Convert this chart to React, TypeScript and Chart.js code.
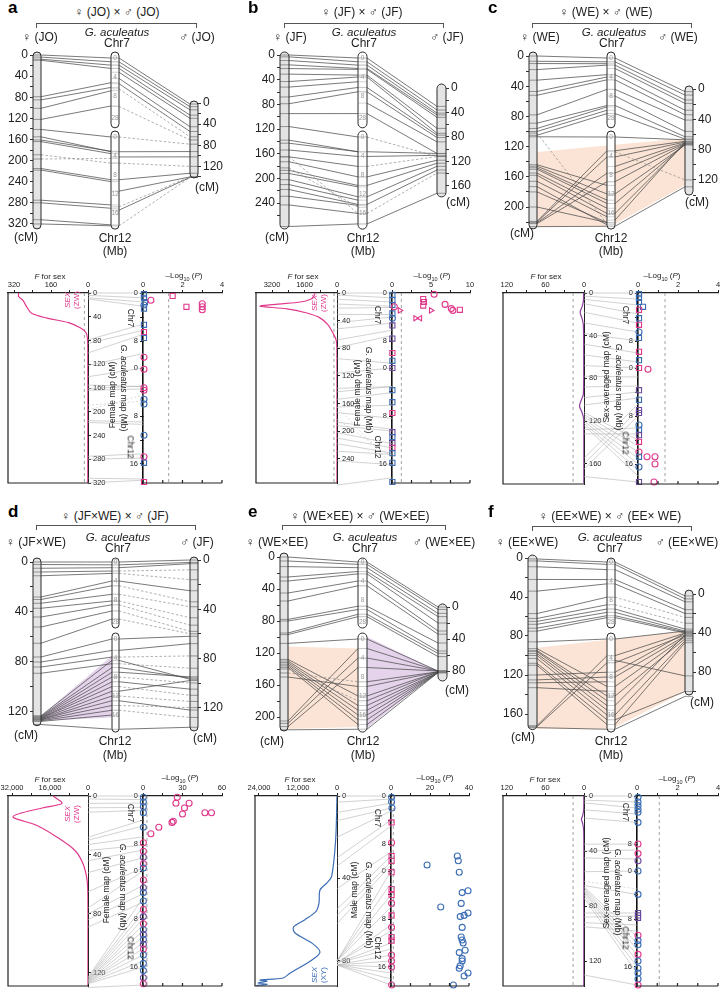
import React, { useEffect, useRef } from 'react';
import { Chart, registerables } from 'chart.js';
Chart.register(...registerables);

const FONT = '"Liberation Sans", Arial, Helvetica, sans-serif';
const MAGENTA = '#e0398c';
const BLUE = '#3b6db5';
const PURPLE = '#6b4b9e';
const VIOLET = '#8c3d9c';
const ORANGE_SHADE = 'rgba(247, 205, 178, 0.55)';
const PURPLE_SHADE = 'rgba(205, 175, 218, 0.55)';

// chromosome bar labels (display units)
const CHR7_LABEL_POS = [0, 4, 8, 12.6];
const CHR7_LABELS = ['0', '4', '8', '28'];
const CHR12_LABEL_POS = [0, 4, 8, 12, 16];
const CHR12_LABELS = ['0', '4', '8', '12', '16'];

// QTL G. aculeatus axis
const QTL_C12_OFFSET = 12.5;
const MB_TICKS = [0, 4, 8, 12.5, 16.5, 20.5, 24.5, 28.5];
const MB_LABELS = ['0', '', '8', '0', '', '8', '', '16'];

// ---------- comparative map links: [cM, chr, Mb, dashed] ----------
const aFemaleLinks = [[0,7,0,0],[4,7,0.8,0],[8,7,1.5,0],[10,7,2.2,0],[79,7,5.2,0],[85,7,6.2,0],[101,7,6.9,0],[122,7,10.1,0],[141,12,0,0],[155,12,3.1,0],[161,12,3.0,0],[164,12,3.5,0],[189,12,5.5,1],[197,12,4.5,1],[215,12,9.0,0],[218,12,9.4,0],[275,12,14.3,0],[280,12,15.0,0],[312,12,18.5,0],[320,12,18.7,0]];
const aMaleLinks = [[2,7,0,0],[7,7,0.8,0],[13,7,1.5,0],[23,7,2.2,0],[29,7,3.0,0],[45,7,4.3,0],[54,7,5.4,0],[64,7,6.5,1],[70,7,10.2,1],[78,12,0,1],[92,12,3.1,0],[102,12,4.2,0],[120,12,5.5,1],[133,12,9.0,0],[140,12,11.4,0],[140,12,14.7,1],[141,12,15.4,0],[141,12,18.7,1]];
const bFemaleLinks = [[0,7,0,0],[3,7,0.8,0],[9,7,1.5,0],[16,7,2.2,0],[22,7,2.4,0],[31,7,3.6,0],[43,7,4,0],[52,7,5,0],[68,7,6.2,0],[79,7,7.1,0],[95,7,11.7,0],[116,12,0,0],[138,12,3.1,0],[143,12,3.1,0],[154,12,4.1,0],[165,12,6.2,0],[173,12,8.4,0],[187,12,10.2,0],[192,12,10.5,0],[202,12,12.6,0],[210,12,13.3,0],[218,12,14.2,0],[229,12,14.4,0],[243,12,16.1,0],[278,12,18.3,0],[165,12,16.1,1],[183,12,14.8,1]];
const bMaleLinks = [[30,7,0,0],[36,7,0.8,0],[41,7,1.5,0],[44,7,2.2,0],[48,7,2.4,0],[66,7,3.6,0],[74,7,4,0],[77,7,6.2,0],[81,7,7.1,0],[88,7,9.5,0],[107,7,11.7,0],[112,12,0,1],[107,12,3.1,0],[110,12,4.1,0],[112,12,6.2,1],[118,12,8.4,0],[123,12,10.2,0],[128,12,12.6,0],[134,12,14.2,0],[139,12,16.1,1],[172,12,18.3,0]];
const cFemaleLinks = [[0,7,0,0],[7,7,0.8,0],[10,7,1.2,0],[18,7,1.5,0],[32,7,3.5,0],[47,7,4,0],[52,7,4.6,0],[78,7,6.6,0],[89,7,10,0],[96,7,10.3,0],[100,7,11,0],[105,7,11.7,0],[107,12,0,0],[102,12,18.3,1],[144,12,10.2,0],[146,12,12,0],[148,12,13.3,0],[150,12,14,0],[155,12,15,0],[158,12,16.1,0],[166,12,16.8,0],[173,12,18.5,0],[180,12,18,0],[200,12,18,0],[219,12,2.9,0],[220,12,4.2,0],[221,12,7.6,0],[222,12,9.4,0],[226,12,18.8,0]];
const cMaleLinks = [[3.5,7,0,0],[8,7,0.8,0],[14.5,7,1.5,0],[19,7,2.2,0],[28,7,3.5,0],[34,7,4.6,0],[41,7,6.6,0],[56,7,8,0],[63,7,10,0],[66,7,11.7,0],[67,12,0,0],[69,12,2.9,0],[70,12,4.2,0],[71,12,6.2,0],[72,12,7.6,0],[73,12,9.4,0],[74,12,12,0],[73,12,14,0],[72,12,16.1,0],[70,12,17.5,0],[120,12,3.1,1],[129,12,18.8,0]];
const dFemaleLinks = [[0,7,0,0],[2,7,0.6,0],[5,7,1.2,0],[8,7,1.9,0],[11,7,2.4,0],[28,7,4,0],[30,7,5,0],[33,7,6.8,0],[37,7,8.2,0],[44,7,9,0],[52,7,10.3,0],[65,7,12,0],[76,12,0,0],[80,12,2.4,0],[84,12,3.8,0],[89,12,5.2,0],[123,12,4.5,0],[123.5,12,6,0],[124,12,7,0],[124.5,12,8,0],[125,12,9,0],[125,12,10,0],[125.5,12,11,0],[126,12,12,0],[126,12,13,0],[126.5,12,14,0],[127,12,15,0],[127.5,12,16,0],[130,12,19,0]];
const dMaleLinks = [[0,7,0,0],[2,7,0.6,0],[3,7,1.2,0],[8,7,1.9,1],[16,7,2.4,1],[25,7,4,0],[34,7,5,1],[38,7,6.8,1],[47,7,8.2,1],[53,7,9,1],[58,7,10.3,1],[60,7,12,1],[62,12,0,0],[68,12,2.4,0],[78,12,3.8,1],[88,12,5.2,1],[97,12,4.5,0],[96,12,6,0],[95,12,7,0],[100,12,8,1],[105,12,9,0],[110,12,10,1],[98,12,11,0],[115,12,12,1],[122,12,13,0],[120,12,14,1],[128,12,15,1],[136,12,19,0]];
const eFemaleLinks = [[0,7,0,0],[5,7,0.5,0],[12,7,1.2,0],[25,7,2,0],[30,7,2.5,0],[45,7,4,0],[55,7,5,0],[78,7,9.3,0],[80,7,10,0],[95,7,11,0],[97,7,11.5,0],[108,12,0,0],[128,12,12,0],[130,12,14,0],[132,12,15,0],[134,12,16,0],[136,12,17,0],[138,12,18,0],[140,12,13,1],[145,12,9,1],[150,12,10,0],[205,12,2,0],[208,12,4,0],[212,12,6,0],[216,12,19,0]];
const eMaleLinks = [[0,7,0,0],[3,7,0.5,0],[8,7,1.2,0],[12,7,2,0],[20,7,2.5,0],[30,7,4,0],[34,7,5,0],[45,7,9.3,0],[55,7,10,0],[58,7,11,0],[62,7,11.5,0],[80,12,0,0],[80,12,2,0],[80,12,4,0],[80,12,6,0],[81,12,9,0],[81,12,10,0],[81,12,12,0],[81,12,13,0],[82,12,14,0],[82,12,15,0],[82,12,16,0],[82,12,17,0],[82,12,18,0],[82,12,19,0]];
const fFemaleLinks = [[1,7,0,0],[3,7,0.5,0],[9,7,1.6,0],[22,7,3.7,0],[34,7,4.6,0],[57,7,7.4,0],[62,7,9,0],[65,7,9.9,0],[68,7,10.6,0],[72,7,11.3,0],[75,7,11.7,0],[86,12,0,0],[93,12,10,0],[95,12,12,0],[96,12,13,0],[98,12,14,0],[100,12,15,0],[103,12,16,0],[108,12,17,0],[110,12,18,0],[120,12,7,0],[125,12,8,0],[128,12,9,0],[133,12,11,0],[172,12,3.5,0],[173,12,5,0],[174,12,19,0]];
const fMaleLinks = [[2,7,0,0],[5,7,0.5,0],[8,7,1.6,0],[16,7,3.7,0],[20,7,4.6,0],[24,7,7.4,1],[30,7,9,1],[36,7,9.9,0],[38,7,10.6,0],[39,7,11.3,0],[40,7,11.7,0],[38,12,0,0],[40,12,3.5,0],[42,12,5,0],[40,12,7,0],[43,12,8,0],[44,12,10,0],[46,12,12,0],[42,12,14,0],[48,12,16,0],[50,12,18,0],[84,12,4.5,0],[105,12,19,0],[100,12,17,0]];
const cAvgLinks = [[0,7,0,0],[3,7,1,0],[6,7,2,0],[10,7,3.5,0],[18,7,5,0],[28,7,6.5,0],[38,7,8,0],[48,7,10,0],[58,7,11.5,0],[68,12,0,0],[78,12,1.5,0],[88,12,3,0],[98,12,4,0],[105,12,5,0],[112,12,12,0],[114,12,13,0],[116,12,14,0],[118,12,15,0],[120,12,16,0],[122,12,17,0],[124,12,18,0],[128,12,10,0],[132,12,11,0],[155,12,6,0],[160,12,7,0],[165,12,8,0],[172,12,19,0]];
const fAvgLinks = [[0,7,0,0],[3,7,1,0],[5,7,2,0],[10,7,3,0],[16,7,4.4,0],[35,7,8,0],[40,7,9,0],[45,7,10.5,0],[55,12,0,0],[62,12,3,1],[65,12,3.9,0],[66,12,11,0],[67,12,12,0],[68,12,13,0],[69,12,14,0],[70,12,15,0],[72,12,16,0],[74,12,17,0],[85,12,7,0],[88,12,7.5,0],[92,12,9,0],[95,12,10,0],[130,12,19,0]];

// shaded blocks: [column, chr(0 = linkage map), value]
const cShade = [['f',0,127],['m',0,65],['m',0,127],['cc',12,18.8],['f',0,226]];
const dShade = [['f',0,123],['cl',12,3.5],['cl',12,16.5],['f',0,127]];
const eShadeA = [['f',0,112],['cl',12,2],['cl',12,18.5],['f',0,215]];
const eShadeB = [['cr',12,-0.5],['m',0,80],['cr',12,18.8]];
const fShade = [['f',0,92],['m',0,38],['m',0,100],['cc',12,19],['f',0,175]];

// map axis ticks
const aFemaleTicks = [0,20,40,60,80,100,120,140,160,180,200,220,240,260,280,300,320];
const aMaleTicks = [0,20,40,60,80,100,120,140];
const bFemaleTicks = [0,20,40,60,80,100,120,140,160,180,200,220,240,260];
const bMaleTicks = [0,20,40,60,80,100,120,140,160];
const cFemaleTicks = [0,20,40,60,80,100,120,140,160,180,200,220];
const cMaleTicks = [0,20,40,60,80,100,120,140];
const dFemaleTicks = [0,20,40,60,80,100,120];
const dMaleTicks = [0,20,40,60,80,100,120];
const eFemaleTicks = [0,20,40,60,80,100,120,140,160,180,200];
const eMaleTicks = [0,20,40,60,80];
const fFemaleTicks = [0,20,40,60,80,100,120,140,160];
const fMaleTicks = [0,20,40,60,80,100];

// ---------- QTL: F-for-sex curves [cM, F] ----------
const aFCurve = [[0,300],[6,300],[12,282],[24,264],[34,244],[42,180],[50,84],[59,32],[67,8],[80,2],[120,1],[200,1],[320,1]];
const bFCurve = [[0,1080],[5,1150],[9,1300],[13,1800],[16,2900],[19,3790],[23,2460],[29,1480],[36,840],[46,440],[58,200],[68,40],[80,5],[150,2],[275,2]];
const cFCurve = [[0,0.5],[8,1],[13,3],[18,6],[24,3],[30,1],[60,0.5],[95,1],[100,4],[106,7],[112,3],[118,0.5],[178,0.3]];
const dFCurve = [[0,14700],[5,11000],[8,19000],[14,31600],[20,21500],[28,13000],[37,5500],[46,2100],[57,400],[69,50],[100,20],[129,20]];
const eFCurve = [[0,0],[21,400],[39,1640],[42,3000],[45.6,5230],[52,5540],[56,6460],[60,9850],[63.6,13400],[66.5,12900],[71.4,7700],[75.7,5230],[79.6,7700],[86,14500],[88.3,16600],[89.3,23700],[89.9,21500],[90.8,24300],[91.4,21500],[92,24800]];
const fFCurve = [[0,0.3],[10,0.5],[14,2],[17,4],[20,2],[25,0.5],[60,0.3],[100,0.3],[138,0.3]];

// ---------- QTL: association points [chr, Mb, -log10P, shape, colour] ----------
const aPoints = [[7,0.2,0.05,'s','b'],[7,0.8,0.05,'s','b'],[7,1.5,0.1,'s','b'],[7,2.0,0.05,'o','b'],[7,2.6,0.05,'s','b'],[7,5.3,0.05,'s','b'],[7,6.5,0.05,'s','m'],[7,7.5,0.05,'s','b'],[7,10.7,0.05,'o','m'],[12,0.2,0.05,'o','m'],[12,3.3,0.05,'o','m'],[12,3.7,0.05,'o','m'],[12,5.2,0.05,'o','b'],[12,6.0,0.05,'o','b'],[12,11.2,0.05,'o','b'],[12,14.8,0.05,'o','m'],[12,15.8,0.05,'s','b'],[12,19.0,0.05,'s','m'],[7,0.5,1.5,'s','m'],[7,2.3,2.2,'s','m'],[7,1.8,3.0,'o','m'],[7,2.3,3.0,'o','m'],[7,2.8,3.0,'o','m'],[7,1.2,0.4,'o','m']];
const bPoints = [[7,0.3,0.05,'s','b'],[7,1.2,0.05,'s','b'],[7,2.0,0.05,'s','b'],[7,3.4,0.05,'s','b'],[7,4.2,0.05,'o','b'],[7,5.4,0.05,'s','p'],[7,7.6,0.05,'s','p'],[7,10.0,0.05,'s','m'],[7,11.3,0.05,'s','b'],[12,0,0.05,'s','p'],[12,3.7,0.05,'s','b'],[12,5.7,0.05,'s','b'],[12,7.5,0.05,'s','m'],[12,10.7,0.05,'s','p'],[12,11.5,0.05,'s','b'],[12,12.5,0.05,'s','p'],[12,13.3,0.05,'s','m'],[12,14.2,0.05,'s','b'],[12,15.8,0.05,'s','b'],[12,19.0,0.05,'s','b'],[7,0.2,5.4,'o','m'],[7,1.0,4.0,'s','m'],[7,1.5,4.1,'s','m'],[7,2.1,4.0,'s','m'],[7,1.9,6.8,'o','m'],[7,2.6,7.6,'o','m'],[7,2.9,7.8,'o','m'],[7,2.8,8.7,'s','m'],[7,2.9,5.0,'tr','m'],[7,2.9,1.0,'tr','m'],[7,4.2,3.0,'tr','m'],[7,4.2,3.6,'tl','m'],[7,2.3,0.3,'o','m']];
const cPoints = [[7,0.2,0.05,'s','b'],[7,0.8,0.05,'s','b'],[7,1.5,0.05,'s','b'],[7,2.3,0.25,'s','b'],[7,2.8,0.05,'s','m'],[7,4.2,0.05,'s','b'],[7,5.3,0.05,'s','m'],[7,6.5,0.05,'o','b'],[7,7.5,0.05,'s','b'],[7,9.8,0.05,'s','m'],[7,11.2,0.05,'s','b'],[12,0,0.05,'s','m'],[12,0.2,0.5,'o','m'],[12,3.7,0.05,'s','p'],[12,5.3,0.05,'s','b'],[12,7.0,0.05,'s','p'],[12,7.5,0.05,'s','p'],[12,9.5,0.05,'o','b'],[12,10.3,0.05,'s','b'],[12,11.2,0.05,'s','p'],[12,12.3,0.05,'s','m'],[12,14.0,0.05,'o','m'],[12,14.8,0.05,'s','b'],[12,16.5,0.05,'o','b'],[12,19.0,0.05,'s','p'],[12,14.8,0.45,'o','m'],[12,14.8,0.85,'o','m'],[12,16.0,0.85,'o','m'],[12,19.0,0.8,'o','m']];
const dPoints = [[7,0.2,0.3,'o','b'],[7,1.0,0.3,'o','b'],[7,1.8,0.3,'o','b'],[7,2.8,0.3,'o','b'],[7,5.2,0.3,'o','b'],[7,7.8,0.3,'o','m'],[7,9.2,0.3,'o','m'],[7,10.2,0.3,'o','p'],[7,11.3,0.3,'o','m'],[7,12.0,0.3,'o','b'],[12,1.5,0.3,'o','m'],[12,2.8,0.3,'o','p'],[12,3.6,0.3,'o','b'],[12,5.0,0.3,'o','b'],[12,6.4,0.3,'o','m'],[12,7.6,0.3,'o','p'],[12,8.8,0.3,'o','m'],[12,9.8,0.3,'o','b'],[12,10.6,0.3,'o','p'],[12,11.4,0.3,'o','b'],[12,12.2,0.3,'o','p'],[12,13.0,0.3,'o','m'],[12,14.0,0.3,'o','b'],[12,15.4,0.3,'o','b'],[12,16.6,0.3,'o','b'],[12,17.8,0.3,'o','p'],[12,18.8,0.3,'o','m'],[7,0.2,26,'o','m'],[7,1.2,25,'o','m'],[7,1.2,35,'o','m'],[7,2.0,31.5,'o','m'],[7,3.0,30,'o','m'],[7,2.8,47,'o','m'],[7,2.8,52,'o','m'],[7,4.2,23,'o','m'],[7,4.4,22,'o','m'],[7,5.2,12,'o','m'],[7,6.3,6,'o','m']];
const ePoints = [[7,0.2,0.3,'o','b'],[7,1.0,0.3,'o','b'],[7,2.0,0.5,'o','b'],[7,4.4,0.3,'s','m'],[7,7.8,0.3,'o','m'],[7,10.0,0.3,'s','m'],[7,10.8,0.3,'s','m'],[12,0.2,0.3,'s','m'],[12,3.0,0.3,'s','m'],[12,4.0,0.3,'s','m'],[12,5.4,0.3,'o','m'],[12,7.4,0.3,'s','m'],[12,9.4,0.3,'o','m'],[12,11.0,0.3,'s','m'],[12,11.6,0.3,'s','m'],[12,14.0,0.3,'o','m'],[12,15.0,0.3,'o','m'],[12,16.0,0.3,'o','m'],[12,19.0,0.3,'o','m'],[7,10.0,34,'o','b'],[7,10.8,34.5,'o','b'],[7,11.5,18.5,'o','b'],[12,0.2,35,'o','b'],[12,3.6,36.5,'o','b'],[12,3.3,39.5,'o','b'],[12,5.4,36,'o','b'],[12,6.0,25.5,'o','b'],[12,7.0,39.5,'o','b'],[12,7.6,35.5,'o','b'],[12,7.4,37.5,'o','b'],[12,9.4,36.5,'o','b'],[12,11.0,36,'o','b'],[12,11.5,36.5,'o','b'],[12,12.0,37,'o','b'],[12,13.2,38,'o','b'],[12,13.6,35,'o','b'],[12,14.6,36.5,'o','b'],[12,15.0,36.5,'o','b'],[12,15.8,35.5,'o','b'],[12,16.2,35,'o','b'],[12,17.0,39.5,'o','b'],[12,17.5,37.5,'o','b'],[12,19.0,32,'o','b']];
const fPoints = [[7,0.2,0.05,'o','b'],[7,1.0,0.05,'o','b'],[7,1.6,0.05,'o','b'],[7,2.2,0.05,'o','b'],[7,2.7,0.05,'o','b'],[7,4.4,0.05,'o','b'],[7,8.0,0.05,'o','m'],[7,9.6,0.05,'o','m'],[7,10.8,0.05,'o','p'],[12,0,0.05,'o','b'],[12,3.9,0.05,'o','b'],[12,7.0,0.05,'s','p'],[12,7.4,0.05,'s','p'],[12,7.8,0.05,'s','p'],[12,10.7,0.05,'o','m'],[12,11.6,0.05,'o','b'],[12,12.3,0.05,'o','b'],[12,13.9,0.05,'o','m'],[12,15.0,0.05,'o','b'],[12,16.2,0.05,'o','b'],[12,17.0,0.05,'o','b'],[12,18.0,0.05,'o','b'],[12,19.0,0.05,'o','m']];

// QTL axis ticks
const fTicksA = [320,240,160,80,0]; const fLabelsA = ['320','','160','','0'];
const fTicksB = [3200,2400,1600,800,0]; const fLabelsB = ['3200','','1600','','0'];
const fTicksC = [120,90,60,30,0]; const fLabelsC = ['120','','60','','0'];
const fTicksD = [32000,24000,16000,8000,0]; const fLabelsD = ['32,000','','16,000','','0'];
const fTicksE = [24000,18000,12000,6000,0]; const fLabelsE = ['24,000','','12,000','','0'];
const pTicks4 = [0,1,2,3,4]; const pLabels4 = ['0','','2','','4'];
const pTicks10 = [0,2.5,5,7.5,10]; const pLabels10 = ['0','','5','','10'];
const pTicks60 = [0,15,30,45,60]; const pLabels60 = ['0','','30','','60'];
const pTicks40 = [0,10,20,30,40]; const pLabels40 = ['0','','20','','40'];
const mapTicksA = [0,40,80,120,160,200,240,280,320];
const mapTicksB = [0,40,80,120,160,200,240];
const mapTicksC = [0,40,80,120,160];
const mapTicksD = [0,40,80,120];
const mapTicksE = [0,40,80];
const mapTicksF = [0,40,80,120];

const COLORS: any = { m: MAGENTA, b: BLUE, p: PURPLE };

// ---------- layout ----------
const MAPS: any[] = [
  { letter: 'a', title: '♀ (JO) × ♂ (JO)', fName: '♀ (JO)', mName: '♂ (JO)', fLinks: aFemaleLinks, mLinks: aMaleLinks, fTicks: aFemaleTicks, mTicks: aMaleTicks, shades: [],
    L: { x0: 0, x1: 240, top: 52, bottom: 229, fL: 33, fR: 41, cL: 111, cR: 119, mL: 190, mR: 198, f0: 55, fk: 0.528, m0: 103, mk: 0.528, c7: 58, c12: 137, ck: 4.75, fBar: [-5.7, 329.5], mBar: [-3.8, 142], c7Bar: [-1.26, 14.7], c12Bar: [-1.26, 19.4] },
    H: { letter: [8, 8], title: [117, 13], br: [36, 195, 23], fName: [40, 38], gac: [117, 32], chr7: [117, 44], mName: [197, 38], fcm: [26, 238], chr12: [115, 239], mb: [115, 252], mcm: [207, 188] } },
  { letter: 'b', title: '♀ (JF) × ♂ (JF)', fName: '♀ (JF)', mName: '♂ (JF)', fLinks: bFemaleLinks, mLinks: bMaleLinks, fTicks: bFemaleTicks, mTicks: bMaleTicks, shades: [],
    L: { x0: 240, x1: 480, top: 52, bottom: 229, fL: 280, fR: 289, cL: 358, cR: 367, mL: 437, mR: 446, f0: 55, fk: 0.617, m0: 88, mk: 0.612, c7: 58, c12: 137, ck: 4.75, fBar: [-4.9, 282], mBar: [-6.5, 178], c7Bar: [-1.26, 14.7], c12Bar: [-1.26, 19.4] },
    H: { letter: [248, 8], title: [362, 13], br: [284, 442, 23], fName: [290, 38], gac: [364, 32], chr7: [364, 44], mName: [447, 38], fcm: [277, 238], chr12: [363, 239], mb: [363, 252], mcm: [458, 203] } },
  { letter: 'c', title: '♀ (WE) × ♂ (WE)', fName: '♀ (WE)', mName: '♂ (WE)', fLinks: cFemaleLinks, mLinks: cMaleLinks, fTicks: cFemaleTicks, mTicks: cMaleTicks, shades: [{ color: ORANGE_SHADE, pts: cShade }],
    L: { x0: 480, x1: 720, top: 52, bottom: 229, fL: 529, fR: 537, cL: 607, cR: 615, mL: 685, mR: 693, f0: 56, fk: 0.755, m0: 89, mk: 0.758, c7: 58, c12: 137, ck: 4.75, fBar: [-5.3, 229], mBar: [-4, 140], c7Bar: [-1.26, 14.7], c12Bar: [-1.26, 19.4] },
    H: { letter: [488, 8], title: [606, 13], br: [532, 690, 23], fName: [540, 38], gac: [614, 32], chr7: [612, 44], mName: [678, 38], fcm: [522, 234], chr12: [611, 239], mb: [611, 252], mcm: [697, 203] } },
  { letter: 'd', title: '♀ (JF×WE) × ♂ (JF)', fName: '♀ (JF×WE)', mName: '♂ (JF)', fLinks: dFemaleLinks, mLinks: dMaleLinks, fTicks: dFemaleTicks, mTicks: dMaleTicks, shades: [{ color: PURPLE_SHADE, pts: dShade }],
    L: { x0: 0, x1: 240, top: 556, bottom: 733, fL: 33, fR: 41, cL: 112, cR: 119, mL: 190, mR: 198, f0: 562, fk: 1.25, m0: 560, mk: 1.23, c7: 562, c12: 639, ck: 4.75, fBar: [-3.2, 131], mBar: [-2.4, 139], c7Bar: [-0.84, 13.9], c12Bar: [-1.26, 19.6] },
    H: { letter: [8, 512], title: [115, 517], br: [36, 194, 525], fName: [36, 543], gac: [118, 537], chr7: [118, 549], mName: [197, 543], fcm: [26, 736], chr12: [115, 742], mb: [115, 756], mcm: [205, 739] } },
  { letter: 'e', title: '♀ (WE×EE) × ♂ (WE×EE)', fName: '♀ (WE×EE)', mName: '♂ (WE×EE)', fLinks: eFemaleLinks, mLinks: eMaleLinks, fTicks: eFemaleTicks, mTicks: eMaleTicks, shades: [{ color: ORANGE_SHADE, pts: eShadeA }, { color: PURPLE_SHADE, pts: eShadeB }],
    L: { x0: 240, x1: 480, top: 552, bottom: 733, fL: 280, fR: 288, cL: 358, cR: 367, mL: 438, mR: 447, f0: 557, fk: 0.8, m0: 607, mk: 0.8, c7: 562, c12: 639, ck: 4.75, fBar: [-5, 217.5], mBar: [-3.8, 92.5], c7Bar: [-0.84, 13.9], c12Bar: [-1.26, 19.6] },
    H: { letter: [248, 512], title: [360, 517], br: [282, 444, 525], fName: [277, 543], gac: [365, 537], chr7: [365, 549], mName: [444, 543], fcm: [272, 742], chr12: [363, 742], mb: [363, 756], mcm: [457, 691] } },
  { letter: 'f', title: '♀ (EE×WE) × ♂ (EE× WE)', fName: '♀ (EE×WE)', mName: '♂ (EE×WE)', fLinks: fFemaleLinks, mLinks: fMaleLinks, fTicks: fFemaleTicks, mTicks: fMaleTicks, shades: [{ color: ORANGE_SHADE, pts: fShade }],
    L: { x0: 480, x1: 720, top: 553, bottom: 733, fL: 528, fR: 537, cL: 607, cR: 615, mL: 685, mR: 693, f0: 558, fk: 0.975, m0: 594, mk: 0.975, c7: 562, c12: 639, ck: 4.75, fBar: [-3, 176], mBar: [-4, 103.6], c7Bar: [-0.84, 13.9], c12Bar: [-1.26, 19.6] },
    H: { letter: [488, 512], title: [610, 517], br: [532, 690, 526], fName: [527, 543], gac: [610, 537], chr7: [610, 549], mName: [687, 543], fcm: [523, 738], chr12: [611, 742], mb: [611, 756], mcm: [702, 703] } },
];

const QTLS: any[] = [
  { F: aFCurve, fTicks: fTicksA, fLabels: fLabelsA, pTicks: pTicks4, pLabels: pLabels4, mapTicks: mapTicksA, links: aFemaleLinks, points: aPoints, color: MAGENTA, fThr: 16, pThr: 1.3,
    L: { boxL: 8, mapX: 88, mbX: 143, pR: 222, top: 293, bottom: 483, fMax: 346, mapMax: 320, pMax: 4 },
    H: { f: [50, 277], p: [184, 277], map: [113, 395, 'Female map (cM)'], gac: [123, 388], chr7: [130, 318], chr12: [130, 447], sex: [73, 300, '(ZW)', MAGENTA] } },
  { F: bFCurve, fTicks: fTicksB, fLabels: fLabelsB, pTicks: pTicks10, pLabels: pLabels10, mapTicks: mapTicksB, links: bFemaleLinks, points: bPoints, color: MAGENTA, fThr: 150, pThr: 1.2,
    L: { boxL: 256, mapX: 337, mbX: 392, pR: 470, top: 293, bottom: 483, fMax: 3990, mapMax: 275, pMax: 10 },
    H: { f: [303, 277], p: [432, 277], map: [358, 393, 'Female map (cM)'], gac: [368, 390], chr7: [377, 315], chr12: [377, 447], sex: [320, 303, '(ZW)', MAGENTA] } },
  { F: cFCurve, fTicks: fTicksC, fLabels: fLabelsC, pTicks: pTicks4, pLabels: pLabels4, mapTicks: mapTicksC, links: cAvgLinks, points: cPoints, color: VIOLET, fThr: 17, pThr: 1.35,
    L: { boxL: 503, mapX: 584, mbX: 638, pR: 718, top: 293, bottom: 484, fMax: 126, mapMax: 179, pMax: 4 },
    H: { f: [546, 277], p: [662, 277], map: [607, 377, 'Sex-averaged map (cM)'], gac: [618, 387], chr7: [625, 315], chr12: [625, 443], sex: null } },
  { F: dFCurve, fTicks: fTicksD, fLabels: fLabelsD, pTicks: pTicks60, pLabels: pLabels60, mapTicks: mapTicksD, links: dFemaleLinks, points: dPoints, color: MAGENTA, fThr: null, pThr: 3,
    L: { boxL: 8, mapX: 88, mbX: 143, pR: 222, top: 796, bottom: 986, fMax: 33700, mapMax: 129, pMax: 60 },
    H: { f: [50, 780], p: [180, 779], map: [107, 890, 'Female map (cM)'], gac: [122, 887], chr7: [130, 813], chr12: [130, 948], sex: [73, 814, '(ZW)', MAGENTA] } },
  { F: eFCurve, fTicks: fTicksE, fLabels: fLabelsE, pTicks: pTicks40, pLabels: pLabels40, mapTicks: mapTicksE, links: eMaleLinks, points: ePoints, color: BLUE, fThr: null, pThr: 1.2,
    L: { boxL: 255, mapX: 337, mbX: 391, pR: 469, top: 796, bottom: 986, fMax: 25230, mapMax: 92.2, pMax: 40 },
    H: { f: [300, 780], p: [435, 779], map: [355, 890, 'Male map (cM)'], gac: [368, 905], chr7: [377, 818], chr12: [377, 948], sex: [320, 975, '(XY)', BLUE] } },
  { F: fFCurve, fTicks: fTicksC, fLabels: fLabelsC, pTicks: pTicks4, pLabels: pLabels4, mapTicks: mapTicksF, links: fAvgLinks, points: fPoints, color: VIOLET, fThr: 17, pThr: 1.1,
    L: { boxL: 503, mapX: 584, mbX: 637, pR: 718, top: 796, bottom: 986, fMax: 126, mapMax: 138, pMax: 4 },
    H: { f: [545, 780], p: [677, 780], map: [607, 883, 'Sex-averaged map (cM)'], gac: [617, 892], chr7: [625, 812], chr12: [625, 938], sex: null } },
];

// ---------- helpers ----------
function pill(ctx: any, x1: number, y1: number, x2: number, y2: number) {
  const r = (x2 - x1) / 2;
  ctx.beginPath();
  ctx.moveTo(x1, y1 + r);
  ctx.arc(x1 + r, y1 + r, r, Math.PI, 0);
  ctx.lineTo(x2, y2 - r);
  ctx.arc(x1 + r, y2 - r, r, 0, Math.PI);
  ctx.closePath();
}

const baseOptions = (padding: any) => ({
  animation: false,
  responsive: false,
  maintainAspectRatio: false,
  events: [],
  layout: { padding },
  plugins: { legend: { display: false }, tooltip: { enabled: false } },
});

function T({ x, y, size = 12, rot = 0, color = '#222', bold = false, italic = false, children }: any) {
  return (
    <div style={{ position: 'absolute', left: x, top: y, transform: `translate(-50%,-50%) rotate(${rot}deg)`, fontSize: size, lineHeight: 1.1, color, fontWeight: bold ? 700 : 400, fontStyle: italic ? 'italic' : 'normal', whiteSpace: 'nowrap', fontFamily: FONT, textAlign: 'center' }}>
      {children}
    </div>
  );
}

// ---------- comparative map chart ----------
function MapChart({ cfg }: any) {
  const ref = useRef<HTMLCanvasElement>(null);
  const L = cfg.L;
  const PADV = 12;
  const cTop = L.top - PADV;
  const W = L.x1 - L.x0;
  const H = L.bottom - L.top + 2 * PADV;
  useEffect(() => {
    const span = L.mR - L.fL;
    const xv = (p: number) => (p - L.fL) / span;
    const X: any = { f: xv(L.fR), fc: xv((L.fL + L.fR) / 2), cl: xv(L.cL), cc: xv((L.cL + L.cR) / 2), cr: xv(L.cR), m: xv(L.mL), mc: xv((L.mL + L.mR) / 2) };
    const off = (L.c12 - L.c7) / L.ck;
    const cd = (chr: number, mb: number) => (chr === 7 ? mb : mb + off);
    const chrMarks = [...cfg.fLinks, ...cfg.mLinks].map((l: any) => ({ x: X.cc, y: cd(l[1], l[2]) }));
    const plugin = {
      id: 'mapDraw',
      beforeDatasetsDraw(chart: any) {
        const ctx = chart.ctx;
        const s = chart.scales;
        const gx = (k: string) => s.x.getPixelForValue(X[k]);
        const gy = (col: string, chr: number, v: number) => (chr === 0 ? (col === 'f' ? s.yF : s.yM).getPixelForValue(v) : s.yC.getPixelForValue(cd(chr, v)));
        ctx.save();
        for (const sh of cfg.shades) {
          ctx.beginPath();
          sh.pts.forEach((p: any, i: number) => {
            const x = gx(p[0]);
            const y = gy(p[0], p[1], p[2]);
            if (i) ctx.lineTo(x, y); else ctx.moveTo(x, y);
          });
          ctx.closePath();
          ctx.fillStyle = sh.color;
          ctx.fill();
        }
        const link = (x1: number, y1: number, x2: number, y2: number, dashed: number) => {
          ctx.beginPath();
          ctx.setLineDash(dashed ? [2.5, 2] : []);
          ctx.strokeStyle = dashed ? '#8c8c8c' : '#4e4e4e';
          ctx.lineWidth = dashed ? 0.7 : 0.75;
          ctx.moveTo(x1, y1);
          ctx.lineTo(x2, y2);
          ctx.stroke();
        };
        for (const l of cfg.fLinks) link(gx('f'), s.yF.getPixelForValue(l[0]), gx('cl'), s.yC.getPixelForValue(cd(l[1], l[2])), l[3]);
        for (const l of cfg.mLinks) link(gx('cr'), s.yC.getPixelForValue(cd(l[1], l[2])), gx('m'), s.yM.getPixelForValue(l[0]), l[3]);
        ctx.setLineDash([]);
        ctx.fillStyle = '#e4e4e4';
        pill(ctx, s.x.getPixelForValue(0), s.yF.getPixelForValue(L.fBar[0]), gx('f'), s.yF.getPixelForValue(L.fBar[1]));
        ctx.fill();
        pill(ctx, gx('m'), s.yM.getPixelForValue(L.mBar[0]), s.x.getPixelForValue(1), s.yM.getPixelForValue(L.mBar[1]));
        ctx.fill();
        ctx.fillStyle = '#ffffff';
        pill(ctx, gx('cl'), s.yC.getPixelForValue(L.c7Bar[0]), gx('cr'), s.yC.getPixelForValue(L.c7Bar[1]));
        ctx.fill();
        pill(ctx, gx('cl'), s.yC.getPixelForValue(cd(12, L.c12Bar[0])), gx('cr'), s.yC.getPixelForValue(cd(12, L.c12Bar[1])));
        ctx.fill();
        ctx.restore();
      },
      afterDatasetsDraw(chart: any) {
        const ctx = chart.ctx;
        const s = chart.scales;
        const gx = (k: string) => s.x.getPixelForValue(X[k]);
        ctx.save();
        ctx.fillStyle = '#9a9a9a';
        ctx.font = `6.5px ${FONT}`;
        ctx.textAlign = 'center';
        ctx.textBaseline = 'middle';
        CHR7_LABEL_POS.forEach((p, i) => ctx.fillText(CHR7_LABELS[i], gx('cc'), s.yC.getPixelForValue(p)));
        CHR12_LABEL_POS.forEach((p, i) => ctx.fillText(CHR12_LABELS[i], gx('cc'), s.yC.getPixelForValue(cd(12, p))));
        ctx.strokeStyle = '#2a2a2a';
        ctx.lineWidth = 1;
        pill(ctx, s.x.getPixelForValue(0), s.yF.getPixelForValue(L.fBar[0]), gx('f'), s.yF.getPixelForValue(L.fBar[1]));
        ctx.stroke();
        pill(ctx, gx('m'), s.yM.getPixelForValue(L.mBar[0]), s.x.getPixelForValue(1), s.yM.getPixelForValue(L.mBar[1]));
        ctx.stroke();
        pill(ctx, gx('cl'), s.yC.getPixelForValue(L.c7Bar[0]), gx('cr'), s.yC.getPixelForValue(L.c7Bar[1]));
        ctx.stroke();
        pill(ctx, gx('cl'), s.yC.getPixelForValue(cd(12, L.c12Bar[0])), gx('cr'), s.yC.getPixelForValue(cd(12, L.c12Bar[1])));
        ctx.stroke();
        ctx.restore();
      },
    };
    const mk = (data: any, axis: string, r: number, color: string) => ({ data, xAxisID: 'x', yAxisID: axis, showLine: false, pointStyle: 'line', pointRadius: r, pointHoverRadius: r, pointBorderColor: color, borderColor: color, pointBorderWidth: 0.8, clip: false });
    const yAxis = (pos: string, ticks: number[], width: number, min: number, max: number) => ({
      axis: 'y', type: 'linear', position: pos, reverse: true, min, max,
      afterFit: (sc: any) => { sc.width = width; },
      afterBuildTicks: (sc: any) => { sc.ticks = ticks.map((v) => ({ value: v })); },
      ticks: { autoSkip: false, padding: 2, color: '#222', font: { family: FONT, size: 12 }, callback: (v: number) => (Math.round(v) % 40 === 0 ? String(v) : '') },
      grid: { drawOnChartArea: false, drawTicks: true, tickLength: 3, color: '#333' },
      border: { display: false },
    });
    const chart = new Chart(ref.current as any, {
      type: 'scatter',
      data: {
        datasets: [
          mk(cfg.fLinks.map((l: any) => ({ x: X.fc, y: l[0] })), 'yF', (L.fR - L.fL) / 2, '#7e7e7e'),
          mk(chrMarks, 'yC', (L.cR - L.cL) / 2 - 0.6, '#c6c6c6'),
          mk(cfg.mLinks.map((l: any) => ({ x: X.mc, y: l[0] })), 'yM', (L.mR - L.mL) / 2, '#7e7e7e'),
        ],
      } as any,
      options: {
        ...baseOptions({ top: PADV, bottom: PADV, left: 0, right: 0 }),
        scales: {
          x: { type: 'linear', display: false, min: 0, max: 1 },
          yF: yAxis('left', cfg.fTicks, L.fL - L.x0, (L.top - L.f0) / L.fk, (L.bottom - L.f0) / L.fk),
          yM: yAxis('right', cfg.mTicks, L.x1 - L.mR, (L.top - L.m0) / L.mk, (L.bottom - L.m0) / L.mk),
          yC: { axis: 'y', type: 'linear', display: false, reverse: true, min: (L.top - L.c7) / L.ck, max: (L.bottom - L.c7) / L.ck },
        },
      } as any,
      plugins: [plugin],
    });
    return () => chart.destroy();
  }, []);
  return <canvas ref={ref} width={W} height={H} style={{ position: 'absolute', left: L.x0, top: cTop, width: W, height: H }} />;
}

function MapPanel({ cfg }: any) {
  const h = cfg.H;
  return (
    <>
      <MapChart cfg={cfg} />
      <div style={{ position: 'absolute', left: h.letter[0], top: h.letter[1] - 9, fontSize: 17, fontWeight: 700, fontFamily: FONT, lineHeight: 1 }}>{cfg.letter}</div>
      <T x={h.title[0]} y={h.title[1]} size={12}>{cfg.title}</T>
      <div style={{ position: 'absolute', left: h.br[0], top: h.br[2], width: h.br[1] - h.br[0], height: 4, borderTop: '1px solid #555', borderLeft: '1px solid #555', borderRight: '1px solid #555' }} />
      <T x={h.fName[0]} y={h.fName[1]} size={12}>{cfg.fName}</T>
      <T x={h.mName[0]} y={h.mName[1]} size={12}>{cfg.mName}</T>
      <T x={h.gac[0]} y={h.gac[1]} size={11.5} italic>G. aculeatus</T>
      <T x={h.chr7[0]} y={h.chr7[1]} size={12}>Chr7</T>
      <T x={h.fcm[0]} y={h.fcm[1]} size={12}>(cM)</T>
      <T x={h.chr12[0]} y={h.chr12[1]} size={12}>Chr12</T>
      <T x={h.mb[0]} y={h.mb[1]} size={12}>(Mb)</T>
      <T x={h.mcm[0]} y={h.mcm[1]} size={12}>(cM)</T>
    </>
  );
}

// ---------- QTL charts ----------
const mbd = (chr: number, mb: number) => (chr === 7 ? mb : mb + QTL_C12_OFFSET);

function FChart({ q }: any) {
  const ref = useRef<HTMLCanvasElement>(null);
  const L = q.L;
  const padL = 16, padR = 4, axisH = 12, padT = 6, padB = 4;
  const left = L.boxL - padL;
  const top = L.top - axisH - padT;
  const W = L.mapX - L.boxL + padL + padR;
  const H = L.bottom - L.top + axisH + padT + padB;
  useEffect(() => {
    const datasets: any[] = [
      { data: q.F.map((p: number[]) => ({ x: p[1], y: p[0] })), showLine: true, borderColor: q.color, borderWidth: 1.2, pointRadius: 0, tension: 0.3, clip: false },
    ];
    if (q.fThr != null) datasets.push({ data: [{ x: q.fThr, y: 0 }, { x: q.fThr, y: L.mapMax }], showLine: true, borderColor: '#8a8a8a', borderWidth: 0.8, borderDash: [3, 3], pointRadius: 0 });
    const boxPlugin = {
      id: 'fbox',
      afterDraw(chart: any) {
        const { ctx, chartArea: a } = chart;
        ctx.save();
        ctx.strokeStyle = '#222';
        ctx.lineWidth = 1.2;
        ctx.beginPath();
        ctx.moveTo(a.left, a.top);
        ctx.lineTo(a.left, a.bottom);
        ctx.lineTo(a.right, a.bottom);
        ctx.stroke();
        ctx.restore();
      },
    };
    const chart = new Chart(ref.current as any, {
      type: 'scatter',
      data: { datasets },
      options: {
        ...baseOptions({ left: padL, right: padR, top: padT, bottom: padB }),
        scales: {
          x: {
            type: 'linear', position: 'top', reverse: true, min: 0, max: L.fMax,
            afterFit: (sc: any) => { sc.height = axisH; },
            afterBuildTicks: (sc: any) => { sc.ticks = q.fTicks.map((v: number) => ({ value: v })); },
            ticks: { autoSkip: false, maxRotation: 0, padding: 1, color: '#222', font: { family: FONT, size: 7.5 }, callback: (_v: number, i: number) => q.fLabels[i] },
            grid: { drawOnChartArea: false, tickLength: 3, color: '#222' },
            border: { display: true, color: '#222', width: 1.2 },
          },
          y: { type: 'linear', display: false, reverse: true, min: 0, max: L.mapMax },
        },
      } as any,
      plugins: [boxPlugin],
    });
    return () => chart.destroy();
  }, []);
  return <canvas ref={ref} width={W} height={H} style={{ position: 'absolute', left, top, width: W, height: H }} />;
}

function MidChart({ q }: any) {
  const ref = useRef<HTMLCanvasElement>(null);
  const L = q.L;
  const padX = 4, padY = 12;
  const left = L.mapX - padX;
  const top = L.top - padY;
  const W = L.mbX - L.mapX + 2 * padX;
  const H = L.bottom - L.top + 2 * padY;
  const mbMax = (L.bottom - L.top) / 6;
  useEffect(() => {
    const plugin = {
      id: 'midLinks',
      beforeDatasetsDraw(chart: any) {
        const { ctx, chartArea: a, scales: s } = chart;
        ctx.save();
        for (const l of q.links) {
          ctx.beginPath();
          ctx.setLineDash(l[3] ? [2, 2] : []);
          ctx.strokeStyle = l[3] ? '#c4c4c4' : '#b4b4b4';
          ctx.lineWidth = 0.6;
          ctx.moveTo(a.left, s.yMap.getPixelForValue(l[0]));
          ctx.lineTo(a.right, s.yMb.getPixelForValue(mbd(l[1], l[2])));
          ctx.stroke();
        }
        ctx.restore();
      },
    };
    const chart = new Chart(ref.current as any, {
      type: 'scatter',
      data: { datasets: [] },
      options: {
        ...baseOptions({ left: padX, right: padX, top: padY, bottom: padY }),
        scales: {
          x: { type: 'linear', display: false, min: 0, max: 1 },
          yMap: {
            axis: 'y', type: 'linear', position: 'left', reverse: true, min: 0, max: L.mapMax,
            afterFit: (sc: any) => { sc.width = 0; },
            afterBuildTicks: (sc: any) => { sc.ticks = q.mapTicks.map((v: number) => ({ value: v })); },
            ticks: { autoSkip: false, mirror: true, padding: 5, color: '#222', font: { family: FONT, size: 7.5 }, callback: (v: number) => String(v) },
            grid: { drawOnChartArea: false, tickLength: -3, color: '#222' },
            border: { display: true, color: '#222', width: 1 },
          },
          yMb: {
            axis: 'y', type: 'linear', position: 'right', reverse: true, min: 0, max: mbMax,
            afterFit: (sc: any) => { sc.width = 0; },
            afterBuildTicks: (sc: any) => { sc.ticks = MB_TICKS.map((v) => ({ value: v })); },
            ticks: { autoSkip: false, mirror: true, padding: -5, color: '#222', font: { family: FONT, size: 7.5 }, callback: (_v: number, i: number) => MB_LABELS[i] },
            grid: { drawOnChartArea: false, tickLength: -3, color: '#222' },
            border: { display: true, color: '#111', width: 1.6 },
          },
        },
      } as any,
      plugins: [plugin],
    });
    return () => chart.destroy();
  }, []);
  return <canvas ref={ref} width={W} height={H} style={{ position: 'absolute', left, top, width: W, height: H }} />;
}

function PChart({ q }: any) {
  const ref = useRef<HTMLCanvasElement>(null);
  const L = q.L;
  const padL = 8, padR = 8, axisH = 12, padT = 6, padB = 6;
  const left = L.mbX - padL;
  const top = L.top - axisH - padT;
  const W = L.pR - L.mbX + padL + padR;
  const H = L.bottom - L.top + axisH + padT + padB;
  const mbMax = (L.bottom - L.top) / 6;
  useEffect(() => {
    const pts = q.points;
    const styleOf = (p: any) => (p[3] === 's' ? 'rect' : p[3] === 'o' ? 'circle' : 'triangle');
    const plugin = {
      id: 'pbottom',
      afterDraw(chart: any) {
        const { ctx, chartArea: a, scales: s } = chart;
        ctx.save();
        ctx.strokeStyle = '#222';
        ctx.lineWidth = 1.2;
        ctx.beginPath();
        ctx.moveTo(a.left, a.bottom);
        ctx.lineTo(a.right, a.bottom);
        for (const t of s.x.ticks) {
          const x = s.x.getPixelForValue(t.value);
          ctx.moveTo(x, a.bottom);
          ctx.lineTo(x, a.bottom - 3);
        }
        ctx.stroke();
        ctx.restore();
      },
    };
    const chart = new Chart(ref.current as any, {
      type: 'scatter',
      data: {
        datasets: [
          { data: [{ x: q.pThr, y: 0 }, { x: q.pThr, y: mbMax }], showLine: true, borderColor: '#8a8a8a', borderWidth: 0.8, borderDash: [3, 3], pointRadius: 0 },
          {
            data: pts.map((p: any) => ({ x: p[2], y: mbd(p[0], p[1]) })),
            showLine: false, clip: false,
            pointStyle: (c: any) => styleOf(pts[c.dataIndex]),
            pointRotation: (c: any) => (pts[c.dataIndex][3] === 'tr' ? 90 : pts[c.dataIndex][3] === 'tl' ? 270 : 0),
            pointRadius: (c: any) => (pts[c.dataIndex][3] === 's' ? 3.6 : 3),
            pointBorderColor: (c: any) => COLORS[pts[c.dataIndex][4]],
            pointBackgroundColor: 'rgba(0,0,0,0)',
            pointBorderWidth: 1.1,
          },
        ],
      } as any,
      options: {
        ...baseOptions({ left: padL, right: padR, top: padT, bottom: padB }),
        scales: {
          x: {
            type: 'linear', position: 'top', min: 0, max: L.pMax,
            afterFit: (sc: any) => { sc.height = axisH; },
            afterBuildTicks: (sc: any) => { sc.ticks = q.pTicks.map((v: number) => ({ value: v })); },
            ticks: { autoSkip: false, maxRotation: 0, padding: 1, color: '#222', font: { family: FONT, size: 7.5 }, callback: (_v: number, i: number) => q.pLabels[i] },
            grid: { drawOnChartArea: false, tickLength: 3, color: '#222' },
            border: { display: true, color: '#222', width: 1.2 },
          },
          y: { type: 'linear', display: false, reverse: true, min: 0, max: mbMax },
        },
      } as any,
      plugins: [plugin],
    });
    return () => chart.destroy();
  }, []);
  return <canvas ref={ref} width={W} height={H} style={{ position: 'absolute', left, top, width: W, height: H }} />;
}

function QtlPanel({ q }: any) {
  const h = q.H;
  return (
    <>
      <FChart q={q} />
      <MidChart q={q} />
      <PChart q={q} />
      <T x={h.f[0]} y={h.f[1]} size={8}><i>F</i> for sex</T>
      <T x={h.p[0]} y={h.p[1]} size={8}>–Log<sub style={{ fontSize: 5.5 }}>10</sub> (<i>P</i>)</T>
      <T x={h.map[0]} y={h.map[1]} size={8.5} rot={-90}>{h.map[2]}</T>
      <T x={h.gac[0]} y={h.gac[1]} size={8.5} rot={90}><i>G. aculeatus</i> map (Mb)</T>
      <T x={h.chr7[0]} y={h.chr7[1]} size={8.5} rot={90}>Chr7</T>
      <T x={h.chr12[0]} y={h.chr12[1]} size={8.5} rot={90}>Chr12</T>
      {h.sex && (
        <T x={h.sex[0]} y={h.sex[1]} size={8} rot={-90} color={h.sex[3]}>
          <i>SEX</i>
          <br />
          {h.sex[2]}
        </T>
      )}
    </>
  );
}

export default function App() {
  return (
    <div style={{ position: 'absolute', left: 0, top: 0, width: 720, height: 989, background: '#fff', overflow: 'hidden', fontFamily: FONT }}>
      {MAPS.map((m, i) => <MapPanel key={'m' + i} cfg={m} />)}
      {QTLS.map((q, i) => <QtlPanel key={'q' + i} q={q} />)}
    </div>
  );
}
